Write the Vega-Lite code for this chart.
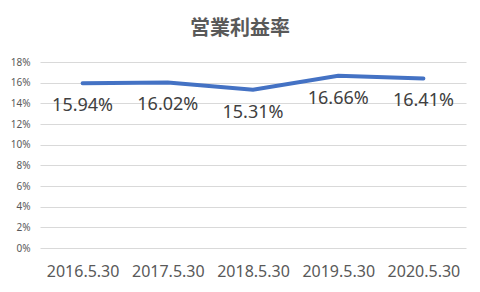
{
  "$schema": "https://vega.github.io/schema/vega-lite/v6.json",
  "width": 426,
  "height": 186,
  "autosize": {"type": "none"},
  "padding": {"left": 40, "top": 62, "right": 14, "bottom": 44},
  "background": "white",
  "title": {
    "text": "営業利益率",
    "font": "Noto Sans CJK JP",
    "fontSize": 20,
    "fontWeight": "bold",
    "color": "#595959",
    "anchor": "middle",
    "dx": -13,
    "offset": 18
  },
  "config": {
    "view": {"stroke": null},
    "font": "Noto Sans"
  },
  "data": {
    "values": [
      {"date": "2016.5.30", "rate": 0.1594, "label": "15.94%"},
      {"date": "2017.5.30", "rate": 0.1602, "label": "16.02%"},
      {"date": "2018.5.30", "rate": 0.1531, "label": "15.31%"},
      {"date": "2019.5.30", "rate": 0.1666, "label": "16.66%"},
      {"date": "2020.5.30", "rate": 0.1641, "label": "16.41%"}
    ]
  },
  "encoding": {
    "x": {
      "field": "date",
      "type": "ordinal",
      "sort": null,
      "scale": {"paddingInner": 0, "paddingOuter": 0},
      "axis": {
        "title": null,
        "labelAngle": 0,
        "labelFontSize": 16,
        "labelColor": "#595959",
        "labelPadding": 15,
        "ticks": false,
        "domain": false,
        "grid": false
      }
    },
    "y": {
      "field": "rate",
      "type": "quantitative",
      "scale": {"domain": [0, 0.18], "nice": false, "zero": true},
      "axis": {
        "title": null,
        "format": ".0%",
        "values": [0, 0.02, 0.04, 0.06, 0.08, 0.1, 0.12, 0.14, 0.16, 0.18],
        "labelFontSize": 10,
        "labelColor": "#595959",
        "labelPadding": 10,
        "ticks": false,
        "domain": false,
        "grid": true,
        "gridColor": "#d9d9d9",
        "gridWidth": 1
      }
    }
  },
  "layer": [
    {
      "mark": {"type": "line", "color": "#4472C4", "strokeWidth": 4, "strokeCap": "round"}
    },
    {
      "mark": {"type": "text", "dy": 23, "fontSize": 18, "color": "#404040", "baseline": "middle"},
      "encoding": {"text": {"field": "label"}}
    }
  ]
}
